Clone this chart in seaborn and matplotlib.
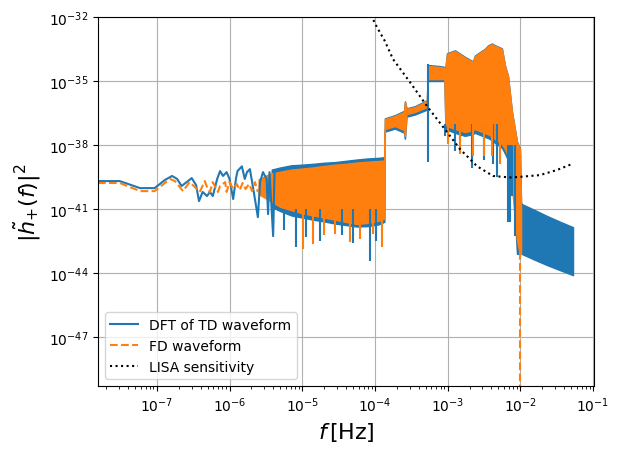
import numpy as np
import pandas as pd
import matplotlib
matplotlib.use("Agg")
import matplotlib.pyplot as plt
import matplotlib.ticker as mticker
import seaborn as sns

# values, stored as log10(f) and log10(|h|^2)

# DFT of TD waveform, low-frequency part (plain line)
td_lf = [-7.81, -7.51, -7.23, -7.03, -6.89, -6.79, -6.72, -6.66, -6.59, -6.52, -6.46, -6.42,
         -6.37, -6.31, -6.27, -6.23, -6.17, -6.13, -6.09, -6.04, -6.00, -5.95, -5.91, -5.89,
         -5.83, -5.79, -5.76, -5.72, -5.68, -5.61, -5.58, -5.54, -5.49, -5.47, -5.45, -5.40, -5.38]
td_lh = [-39.69, -39.69, -40.02, -40.02, -39.64, -39.45, -39.59, -39.92, -39.74, -39.55, -39.88, -40.63,
         -40.20, -40.39, -40.20, -40.39, -39.59, -39.22, -39.45, -39.27, -39.59, -40.53, -39.55, -39.22,
         -39.00, -39.59, -39.27, -39.13, -39.92, -41.38, -39.74, -39.27, -39.59, -41.24, -39.27, -42.27, -39.20]

# DFT of TD waveform, dense oscillating part (envelopes)
td_bf = [-5.42, -5.30, -5.15, -5.00, -4.85, -4.70, -4.55, -4.40, -4.25, -4.10, -3.95, -3.870,
         -3.863, -3.725, -3.600, -3.587, -3.565, -3.450, -3.285,
         -3.271, -3.106, -3.045, -3.030, -3.009, -2.899, -2.760, -2.652, -2.624, -2.480, -2.445,
         -2.390, -2.350, -2.253, -2.211, -2.170, -2.115, -2.046, -2.005, -1.990,
         -1.977, -1.800, -1.630, -1.450, -1.275]
td_bup = [-39.15, -39.05, -38.95, -38.92, -38.88, -38.83, -38.80, -38.74, -38.68, -38.63, -38.60, -38.57,
          -36.75, -36.60, -36.40, -35.95, -36.28, -36.18, -35.90,
          -34.25, -34.30, -34.34, -34.35, -33.70, -33.56, -33.87, -34.08, -33.80, -33.47, -33.33,
          -33.24, -33.32, -33.47, -34.27, -34.75, -36.43, -37.84, -38.17, -40.70,
          -40.77, -41.05, -41.33, -41.60, -41.85]
td_blo = [-40.90, -41.10, -41.30, -41.40, -41.50, -41.58, -41.68, -41.75, -41.82, -41.80, -41.72, -41.60,
          -37.37, -37.23, -37.42, -37.70, -36.67, -36.57, -36.34,
          -35.00, -35.00, -35.00, -37.20, -37.28, -37.43, -37.57, -37.48, -37.43, -37.63, -37.67,
          -37.78, -37.90, -38.13, -38.40, -38.70, -39.10, -43.10, -43.10, -43.10,
          -43.11, -43.38, -43.63, -43.87, -44.10]

# DFT of TD waveform, isolated downward spikes
td_sf = [-5.25, -5.09, -4.95, -4.75, -4.45, -4.30, -4.07, -3.98,
         -3.271, -3.03, -2.90, -2.83, -2.66, -2.50, -2.38, -2.32, -2.17, -2.14, -2.12, -2.07]
td_slo = [-42.00, -42.78, -42.30, -42.50, -42.20, -42.60, -43.44, -42.50,
          -38.80, -37.60, -38.30, -38.40, -39.10, -38.70, -38.90, -39.50, -41.60, -41.60, -40.40, -42.27]
td_shi = [-41.0, -41.0, -41.0, -41.0, -41.0, -41.0, -41.0, -41.0,
          -34.20, -37.0, -37.0, -37.0, -37.0, -37.0, -37.0, -37.0, -38.0, -38.0, -38.0, -38.0]

# FD waveform, low-frequency part
fd_lf = [-7.81, -7.51, -7.23, -7.03, -6.89, -6.82, -6.75, -6.64, -6.55, -6.45, -6.41, -6.34,
         -6.30, -6.27, -6.23, -6.16, -6.13, -6.06, -6.04, -6.00, -5.95, -5.90, -5.86, -5.82,
         -5.78, -5.73, -5.69, -5.65, -5.61]
fd_lh = [-39.78, -39.78, -40.16, -40.16, -39.78, -39.59, -39.69, -40.16, -39.74, -40.06, -40.20, -39.69,
         -40.06, -40.20, -39.74, -40.20, -39.92, -39.74, -40.20, -39.74, -40.06, -39.83, -40.11, -39.78,
         -40.06, -39.83, -40.16, -39.74, -40.20]

# FD waveform, dense part (envelopes)
fd_bf = [-5.60, -5.45, -5.30, -5.15, -5.00, -4.85, -4.70, -4.55, -4.40, -4.25, -4.10, -3.95, -3.870,
         -3.863, -3.725, -3.600, -3.587, -3.565, -3.450, -3.285,
         -3.271, -3.106, -3.045, -3.030, -3.009, -2.899, -2.760, -2.652, -2.624, -2.480, -2.445,
         -2.390, -2.350, -2.253, -2.211, -2.170, -2.115, -2.046, -2.005, -1.990]
fd_bup = [-39.60, -39.35, -39.25, -39.15, -39.10, -39.05, -38.98, -38.92, -38.88, -38.82, -38.78, -38.75, -38.72,
          -36.78, -36.64, -36.45, -35.98, -36.31, -36.22, -35.94,
          -34.30, -34.34, -34.38, -34.39, -33.73, -33.59, -33.90, -34.11, -33.83, -33.50, -33.36,
          -33.27, -33.35, -33.50, -34.30, -34.77, -36.45, -37.86, -38.19, -40.70]
fd_blo = [-40.30, -40.60, -40.90, -41.05, -41.20, -41.30, -41.40, -41.50, -41.60, -41.70, -41.65, -41.55, -41.45,
          -37.25, -37.11, -37.30, -37.58, -36.55, -36.45, -36.22,
          -34.91, -34.91, -34.91, -37.02, -37.10, -37.25, -37.39, -37.30, -37.25, -37.45, -37.49,
          -37.60, -37.72, -37.95, -38.19, -38.50, -40.00, -42.50, -43.10, -43.10]

fd_sf = [-4.99, -4.85, -4.70, -4.55, -4.34, -4.21, -4.03, -3.90,
         -2.99, -2.83, -2.65, -2.50, -2.39, -2.28]
fd_slo = [-42.88, -42.64, -42.20, -42.17, -42.55, -42.41, -42.17, -42.78,
          -37.95, -38.42, -38.52, -38.52, -38.52, -38.90]
fd_shi = [-41.0, -41.0, -41.0, -41.0, -41.0, -41.0, -41.0, -41.0,
          -37.0, -37.0, -37.0, -37.0, -37.0, -37.0]

# FD waveform drops to zero at the cutoff
fd_cut_f = [-2.005, -2.005]
fd_cut_h = [-43.0, -49.5]

# LISA sensitivity
lisa_f = [-4.10, -4.041, -3.973, -3.863, -3.752, -3.519, -3.285, -3.009, -2.830, -2.597,
          -2.376, -2.143, -2.032, -1.730, -1.496, -1.289]
lisa_h = [-31.70, -32.00, -32.47, -33.13, -33.97, -35.05, -36.17, -37.39, -38.19, -38.99,
          -39.45, -39.52, -39.50, -39.41, -39.17, -38.89]

y_ticks = [1e-47, 1e-44, 1e-41, 1e-38, 1e-35, 1e-32]

blue = "#1f77b4"
orange = "#ff7f0e"

fig, ax = plt.subplots(figsize=(6.2, 4.56), dpi=100)
fig.subplots_adjust(left=0.158, right=0.958, bottom=0.151, top=0.9605)
ax.set_xscale("log")
ax.set_yscale("log")

td = pd.DataFrame({"f": 10.0 ** np.array(td_lf), "h": 10.0 ** np.array(td_lh)})
fd = pd.DataFrame({"f": 10.0 ** np.array(fd_lf), "h": 10.0 ** np.array(fd_lh)})
lisa = pd.DataFrame({"f": 10.0 ** np.array(lisa_f), "h": 10.0 ** np.array(lisa_h)})

# blue series
sns.lineplot(data=td, x="f", y="h", ax=ax, color=blue, lw=1.5, sort=False,
             estimator=None, label="DFT of TD waveform")
ax.fill_between(10.0 ** np.array(td_bf), 10.0 ** np.array(td_blo), 10.0 ** np.array(td_bup),
                color=blue, lw=1.0)
ax.vlines(10.0 ** np.array(td_sf), 10.0 ** np.array(td_slo), 10.0 ** np.array(td_shi),
          color=blue, lw=1.5)

# orange series
sns.lineplot(data=fd, x="f", y="h", ax=ax, color=orange, lw=1.5, linestyle="--",
             sort=False, estimator=None, label="FD waveform")
ax.fill_between(10.0 ** np.array(fd_bf), 10.0 ** np.array(fd_blo), 10.0 ** np.array(fd_bup),
                color=orange, lw=1.0)
ax.vlines(10.0 ** np.array(fd_sf), 10.0 ** np.array(fd_slo), 10.0 ** np.array(fd_shi),
          color=orange, lw=1.5)
ax.plot(10.0 ** np.array(fd_cut_f), 10.0 ** np.array(fd_cut_h), color=orange, lw=1.5,
        linestyle="--")

# LISA
sns.lineplot(data=lisa, x="f", y="h", ax=ax, color="black", lw=1.5, linestyle=":",
             sort=False, estimator=None, label="LISA sensitivity")

ax.set_xlim(1.55e-8, 0.103)
ax.set_ylim(5e-50, 1e-32)
ax.set_yticks(y_ticks)
ax.yaxis.set_minor_locator(mticker.NullLocator())
ax.grid(True, color="#b0b0b0", lw=0.8)
ax.set_axisbelow(True)
ax.set_xlabel(r"$f\,$[Hz]", fontsize=16)
ax.set_ylabel(r"$|\tilde{h}_{+}(f)|^2$", fontsize=16)
ax.legend(loc="lower left")

fig.savefig("out.png", dpi=100)
